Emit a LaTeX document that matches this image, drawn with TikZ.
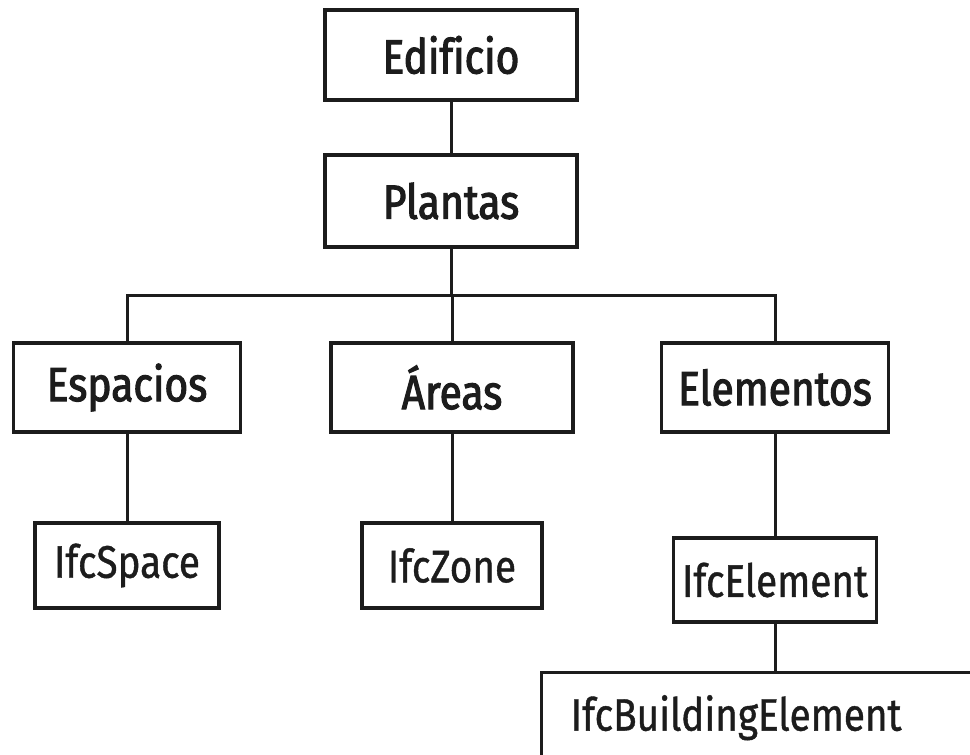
\documentclass[tikz,border=0pt]{standalone}
\usepackage{fontspec}
\setmainfont{Fira Sans}[FakeStretch=0.85, FakeBold=0.9, Ligatures=NoCommon]
\newfontfamily\gruesa{Fira Sans}[FakeStretch=0.85, FakeBold=2.2, Ligatures=NoCommon]
\usepackage{tikz}
\usetikzlibrary{positioning, calc}
\definecolor{tinta}{HTML}{1C1C1C}
\tikzset{
  caja/.style={rectangle, draw=tinta, line width=3.4pt, fill=white, text=tinta,
               font=\gruesa\fontsize{48}{54}\selectfont, minimum width=227pt, minimum height=89pt, inner sep=0pt},
  cajaifc/.style={rectangle, draw=tinta, line width=3.4pt, fill=white, text=tinta,
               font=\fontsize{45.5}{54}\selectfont, minimum height=85pt, inner sep=0pt},
  linea/.style={line width=3pt, draw=tinta}
}

\begin{document}
\begin{tikzpicture}[x=1pt, y=-1pt]
  \useasboundingbox (0,0) rectangle (970,755);
  \clip (0,0) rectangle (970,755);
  % nivel superior
  \node (edificio) [caja, minimum width=252pt, minimum height=90pt] at (451,55) {Edificio};
  \node (plantas) [caja, minimum width=252pt, minimum height=92pt] at (451,201) {Plantas};
  \coordinate (barra) at (451,295);
  % grupos
  \node (espacios) [caja] at (127,387.5) {Espacios};
  \node (areas) [caja, minimum width=242pt] at (452,387.5) {Áreas};
  \node (elementos) [caja] at (775,387.5) {Elementos};
  % clases IFC
  \node (ifcspace) [cajaifc, minimum width=184pt] at (127,565.5) {IfcSpace};
  \node (ifczone) [cajaifc, minimum width=180pt] at (452,565.5) {IfcZone};
  \node (ifcelement) [cajaifc, minimum width=203pt, minimum height=84pt] at (775,580) {IfcElement};
  \node (ifcbuilding) [cajaifc, anchor=north west, inner xsep=29pt, text width=412pt, align=left,
                       minimum height=90pt] at (540,671) {IfcBuildingElement};
  % conectores
  \draw [linea] (edificio) -- (plantas);
  \draw [linea] (plantas) -- (barra);
  \draw [linea] (espacios.north) |- (barra) -| (elementos.north);
  \draw [linea] (barra) -| (areas.north);
  \draw [linea] (espacios) -- (ifcspace);
  \draw [linea] (areas) -- (ifczone);
  \draw [linea] (elementos) -- (ifcelement);
  \draw [linea] (ifcelement.south) -- (ifcelement.south |- ifcbuilding.north);
\end{tikzpicture}
\end{document}
